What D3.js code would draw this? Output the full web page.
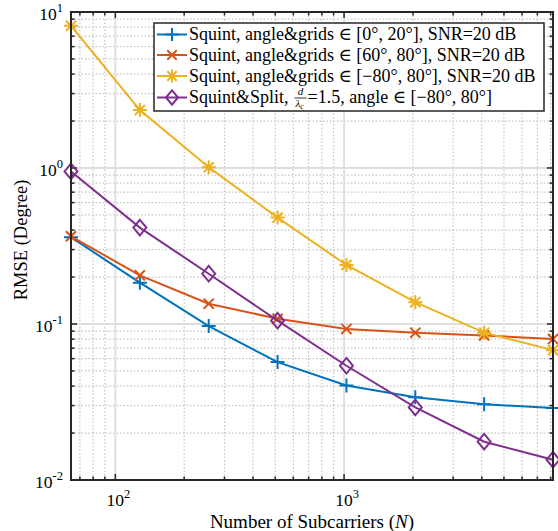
<!DOCTYPE html>
<html>
<head>
<meta charset="utf-8">
<script src="https://cdn.jsdelivr.net/npm/d3@7"></script>
<style>
  html, body { margin: 0; padding: 0; background: #fff; }
  svg { display: block; }
  text { font-family: "Liberation Serif", "DejaVu Serif", serif; fill: #000; }
</style>
</head>
<body>
<svg id="chart" width="558" height="531"></svg>
<script>
// Number of subcarriers
const subcarriers = [64, 128, 256, 512, 1024, 2048, 4096, 8192];

// RMSE (degrees) per method
const squintNarrow = [0.36, 0.184, 0.097, 0.057, 0.0404, 0.0339, 0.0306, 0.0289];
const squintWide   = [0.365, 0.205, 0.135, 0.108, 0.093, 0.088, 0.0844, 0.080];
const squintFull   = [8.15, 2.35, 1.01, 0.481, 0.239, 0.138, 0.088, 0.068];
const squintSplit  = [0.95, 0.415, 0.21, 0.105, 0.054, 0.0292, 0.0176, 0.0135];

const xTickExps = [2, 3];
const yTickExps = [-2, -1, 0, 1];

const seriesList = [
  { name: "narrow", values: squintNarrow, color: "#0072BD", marker: "plus" },
  { name: "wide",   values: squintWide,   color: "#D95319", marker: "cross" },
  { name: "full",   values: squintFull,   color: "#EDB120", marker: "star" },
  { name: "split",  values: squintSplit,  color: "#7E2F8E", marker: "diamond" }
];

const svg = d3.select("#chart");
const L = 71, R = 553, T = 12, B = 480;

const x = d3.scaleLog().domain([64, 8192]).range([L, R]);
const y = d3.scaleLog().domain([0.01, 10]).range([B, T]);

// minor / major positions
const xMinor = [];
[10, 100, 1000].forEach(d => { for (let k = 2; k <= 9; k++) { const v = d * k; if (v > 64 && v < 8192) xMinor.push(v); } });
const xMajor = xTickExps.map(e => Math.pow(10, e));
const yMinor = [];
[0.01, 0.1, 1].forEach(d => { for (let k = 2; k <= 9; k++) yMinor.push(d * k); });
const yMajor = yTickExps.map(e => Math.pow(10, e));

const grid = svg.append("g");
// minor grid (dotted)
grid.selectAll(".xm").data(xMinor).enter().append("line")
  .attr("x1", d => x(d)).attr("x2", d => x(d)).attr("y1", T).attr("y2", B)
  .attr("stroke", "#c4c4c4").attr("stroke-width", 1.2).attr("stroke-dasharray", "1.5,2");
grid.selectAll(".ym").data(yMinor).enter().append("line")
  .attr("y1", d => y(d)).attr("y2", d => y(d)).attr("x1", L).attr("x2", R)
  .attr("stroke", "#c4c4c4").attr("stroke-width", 1.2).attr("stroke-dasharray", "1.5,2");
// major grid (solid, light)
grid.selectAll(".xM").data(xMajor).enter().append("line")
  .attr("x1", d => x(d)).attr("x2", d => x(d)).attr("y1", T).attr("y2", B)
  .attr("stroke", "#dedede").attr("stroke-width", 1.8);
grid.selectAll(".yM").data(yMajor).enter().append("line")
  .attr("y1", d => y(d)).attr("y2", d => y(d)).attr("x1", L).attr("x2", R)
  .attr("stroke", "#dedede").attr("stroke-width", 1.8);

// axes with inward ticks on all four sides
function tickSet(g, scale, values, len, orient) {
  values.forEach(v => {
    const p = scale(v);
    if (orient === "bottom") g.append("line").attr("x1", p).attr("x2", p).attr("y1", B).attr("y2", B - len);
    if (orient === "top") g.append("line").attr("x1", p).attr("x2", p).attr("y1", T).attr("y2", T + len);
    if (orient === "left") g.append("line").attr("y1", p).attr("y2", p).attr("x1", L).attr("x2", L + len);
    if (orient === "right") g.append("line").attr("y1", p).attr("y2", p).attr("x1", R).attr("x2", R - len);
  });
}
const ticks = svg.append("g").attr("stroke", "#262626").attr("stroke-width", 1.5);
["bottom", "top"].forEach(o => { tickSet(ticks, x, xMinor, 3.5, o); tickSet(ticks, x, xMajor, 6, o); });
["left", "right"].forEach(o => { tickSet(ticks, y, yMinor, 3.5, o); tickSet(ticks, y, yMajor, 6, o); });

// marker shapes
function markerPath(type, s) {
  if (type === "plus") return `M${-s},0H${s}M0,${-s}V${s}`;
  if (type === "cross") { const c = s * 0.72; return `M${-c},${-c}L${c},${c}M${-c},${c}L${c},${-c}`; }
  if (type === "star") {
    const c = s * 0.72;
    return `M${-s},0H${s}M0,${-s}V${s}M${-c},${-c}L${c},${c}M${-c},${c}L${c},${-c}`;
  }
  if (type === "diamond") return `M0,${-s * 1.2}L${s},0L0,${s * 1.2}L${-s},0Z`;
}

const line = d3.line().x(d => x(d[0])).y(d => y(d[1]));
const plot = svg.append("g");
seriesList.forEach(s => {
  const pts = subcarriers.map((n, i) => [n, s.values[i]]);
  plot.append("path").attr("d", line(pts)).attr("fill", "none")
    .attr("stroke", s.color).attr("stroke-width", 2);
  plot.selectAll(null).data(pts).enter().append("path")
    .attr("transform", d => `translate(${x(d[0])},${y(d[1])})`)
    .attr("d", markerPath(s.marker, s.marker === "diamond" ? 6.5 : 7))
    .attr("fill", "none").attr("stroke", s.color).attr("stroke-width", 2);
});

// axes box
svg.append("rect").attr("x", L).attr("y", T).attr("width", R - L).attr("height", B - T)
  .attr("fill", "none").attr("stroke", "#262626").attr("stroke-width", 2);

// tick labels 10^k
function powLabel(g, xPos, yPos, exp, anchor) {
  const t = g.append("text").attr("x", xPos).attr("y", yPos).attr("font-size", 17.5).attr("text-anchor", anchor);
  t.append("tspan").text("10");
  t.append("tspan").attr("dy", -8).attr("font-size", 12.5).text(exp < 0 ? "-" + (-exp) : String(exp));
}
const labels = svg.append("g");
xTickExps.forEach(e => powLabel(labels, x(Math.pow(10, e)) + 3, 506, e, "middle"));
yTickExps.forEach(e => powLabel(labels, 63, y(Math.pow(10, e)) + 8, e, "end"));

// axis titles
const xt = svg.append("text").attr("x", (L + R) / 2).attr("y", 528).attr("text-anchor", "middle").attr("font-size", 19);
xt.append("tspan").text("Number of Subcarriers (");
xt.append("tspan").attr("font-style", "italic").text("N");
xt.append("tspan").text(")");
svg.append("text").attr("transform", `translate(27,${(T + B) / 2 - 6}) rotate(-90)`)
  .attr("text-anchor", "middle").attr("font-size", 18.5).text("RMSE (Degree)");

// legend
const FS = 18;
const lg = svg.append("g");
lg.append("rect").attr("x", 154).attr("y", 23).attr("width", 390).attr("height", 88)
  .attr("fill", "#fff").attr("stroke", "#262626").attr("stroke-width", 1.5);
const legendLabels = [
  "Squint, angle&grids \u2208 [0\u00b0, 20\u00b0], SNR=20 dB",
  "Squint, angle&grids \u2208 [60\u00b0, 80\u00b0], SNR=20 dB",
  "Squint, angle&grids \u2208 [\u221280\u00b0, 80\u00b0], SNR=20 dB",
  null
];
const rowY = [34.5, 55, 76, 97.5];
seriesList.forEach((s, i) => {
  const cy = rowY[i];
  lg.append("line").attr("x1", 157).attr("x2", 187).attr("y1", cy).attr("y2", cy)
    .attr("stroke", s.color).attr("stroke-width", 2);
  lg.append("path").attr("transform", `translate(172,${cy})`)
    .attr("d", markerPath(s.marker, s.marker === "diamond" ? 6 : 6.5))
    .attr("fill", "none").attr("stroke", s.color).attr("stroke-width", 2);
  if (legendLabels[i]) {
    lg.append("text").attr("x", 189).attr("y", cy + 5.5).attr("font-size", FS).text(legendLabels[i]);
  }
});
// last legend entry with the d/lambda_c fraction
{
  const cy = rowY[3];
  const t1 = lg.append("text").attr("x", 189).attr("y", cy + 5.5).attr("font-size", FS).text("Squint&Split,");
  const w1 = t1.node().getComputedTextLength();
  const fx = 189 + w1 + 12;
  lg.append("text").attr("x", fx).attr("y", cy - 2.5).attr("text-anchor", "middle")
    .attr("font-size", 11).attr("font-style", "italic").text("d");
  lg.append("line").attr("x1", fx - 6).attr("x2", fx + 6).attr("y1", cy + 0.5).attr("y2", cy + 0.5)
    .attr("stroke", "#000").attr("stroke-width", 0.8);
  const lam = lg.append("text").attr("x", fx - 5).attr("y", cy + 9.5).attr("font-size", 11).attr("font-style", "italic");
  lam.append("tspan").text("\u03bb");
  lam.append("tspan").attr("font-size", 7.5).attr("dy", 2).text("c");
  lg.append("text").attr("x", fx + 7).attr("y", cy + 5.5).attr("font-size", FS)
    .text("=1.5, angle \u2208 [\u221280\u00b0, 80\u00b0]");
}
</script>
</body>
</html>
